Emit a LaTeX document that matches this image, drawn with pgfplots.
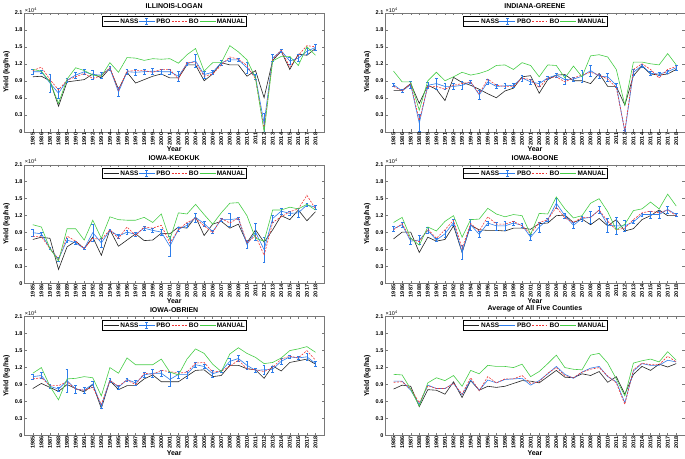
\documentclass[border=0pt]{standalone}
\usepackage{fontspec}
\setmainfont{Liberation Sans}
\usepackage{pgfplots}
\pgfplotsset{compat=1.18}
\usepackage{pgfplotstable}
\usepgfplotslibrary{groupplots}

\definecolor{cnass}{RGB}{35,35,35}
\definecolor{cpbo}{RGB}{45,125,235}
\definecolor{cbo}{RGB}{240,55,55}
\definecolor{cman}{RGB}{70,205,70}
\definecolor{caxis}{RGB}{120,120,120}

\pgfplotstableread{
year nass pbo err bo man
1985 0.97 1.06 0.05 1.08 1.10
1986 0.98 1.06 0.03 1.14 1.07
1987 0.90 0.86 0.16 0.92 0.88
1988 0.45 0.68 0.08 0.74 0.50
1989 0.88 0.91 0.03 0.91 0.93
1990 0.90 1.00 0.05 0.97 1.13
1991 0.92 1.06 0.05 1.03 1.08
1992 1.02 1.01 0.08 0.94 1.00
1993 0.95 1.00 0.05 0.99 0.98
1994 1.12 1.12 0.03 1.13 1.22
1995 0.75 0.70 0.08 0.73 1.05
1996 1.05 1.06 0.04 1.07 1.31
1997 0.86 1.05 0.05 1.08 1.30
1998 0.92 1.06 0.05 1.08 1.26
1999 0.98 1.07 0.05 1.05 1.29
2000 1.02 1.06 0.05 1.10 1.28
2001 0.95 1.06 0.05 1.10 1.29
2002 0.95 0.98 0.08 0.93 1.21
2003 1.18 1.20 0.02 1.22 1.36
2004 1.18 1.25 0.12 1.22 1.47
2005 0.90 1.01 0.06 0.98 1.07
2006 1.02 1.05 0.03 1.02 1.22
2007 1.22 1.22 0.04 1.18 1.22
2008 1.18 1.27 0.03 1.32 1.52
2009 1.18 1.27 0.03 1.28 1.41
2010 0.98 1.13 0.10 1.17 1.27
2011 1.08 0.97 0.05 0.93 0.95
2012 0.60 0.15 0.18 0.05 0.00
2013 1.26 1.30 0.06 1.28 1.25
2014 1.42 1.43 0.03 1.44 1.33
2015 1.10 1.25 0.06 1.14 1.33
2016 1.37 1.30 0.06 1.35 1.17
2017 1.35 1.42 0.05 1.52 1.50
2018 1.47 1.49 0.05 1.50 1.35
}\logan

\pgfplotstableread{
year nass pbo err bo man
1985 0.73 0.83 0.03 0.80 1.07
1986 0.73 0.72 0.03 0.72 0.88
1987 0.85 0.83 0.06 0.85 0.88
1988 0.50 0.15 0.15 0.20 0.38
1989 0.82 0.82 0.05 0.80 0.90
1990 0.75 0.85 0.10 0.80 1.05
1991 0.55 0.80 0.05 0.75 0.90
1992 0.96 0.80 0.05 0.82 0.97
1993 0.87 0.82 0.07 0.85 1.05
1994 0.82 0.88 0.03 0.88 1.00
1995 0.75 0.65 0.08 0.67 1.03
1996 0.67 0.88 0.04 0.93 1.08
1997 0.60 0.80 0.04 0.82 1.17
1998 0.72 0.81 0.04 0.80 1.18
1999 0.77 0.82 0.03 0.80 1.10
2000 0.97 0.95 0.05 0.95 1.22
2001 0.99 0.88 0.05 0.92 1.17
2002 0.68 0.85 0.05 0.78 0.97
2003 0.92 0.95 0.03 0.95 1.18
2004 1.00 1.00 0.03 0.97 1.17
2005 1.01 0.92 0.08 0.88 0.95
2006 0.90 0.93 0.04 0.95 1.16
2007 0.90 0.98 0.10 1.00 0.97
2008 0.85 1.08 0.10 1.05 1.34
2009 1.03 0.98 0.03 1.00 1.36
2010 0.80 0.97 0.07 0.93 1.32
2011 0.80 0.82 0.04 0.78 1.10
2012 0.47 0.00 0.02 0.02 0.47
2013 0.99 1.05 0.05 1.10 1.23
2014 1.16 1.17 0.03 1.20 1.23
2015 1.02 1.03 0.04 1.10 1.20
2016 1.00 1.02 0.03 0.95 1.18
2017 1.02 1.06 0.03 1.10 1.38
2018 1.10 1.13 0.05 1.15 1.18
}\greene

\pgfplotstableread{
year nass pbo err bo man
1985 0.78 0.90 0.06 0.83 1.04
1986 0.82 0.88 0.03 0.83 1.00
1987 0.80 0.62 0.02 0.62 0.62
1988 0.25 0.43 0.04 0.43 0.40
1989 0.65 0.77 0.04 0.84 0.97
1990 0.75 0.72 0.03 0.75 0.97
1991 0.62 0.62 0.02 0.62 0.77
1992 0.82 0.90 0.15 0.80 1.12
1993 0.50 0.72 0.08 0.78 0.80
1994 0.95 0.94 0.02 0.95 1.18
1995 0.66 0.84 0.03 0.80 1.13
1996 0.77 0.91 0.03 1.00 1.12
1997 0.88 0.87 0.03 0.85 1.12
1998 0.76 0.98 0.03 1.00 1.17
1999 0.77 0.94 0.04 0.98 1.08
2000 0.89 0.91 0.05 1.03 1.23
2001 0.88 0.66 0.17 0.72 0.78
2002 1.00 0.96 0.03 0.95 1.25
2003 0.98 1.03 0.03 1.08 1.23
2004 1.18 1.17 0.08 1.15 1.40
2005 0.85 1.06 0.04 1.02 1.22
2006 1.05 0.92 0.03 0.90 1.05
2007 1.10 1.13 0.03 1.15 1.25
2008 0.98 1.13 0.12 1.07 1.42
2009 1.05 1.15 0.02 1.16 1.43
2010 0.72 0.69 0.07 0.72 1.20
2011 0.95 0.91 0.15 0.85 0.80
2012 0.73 0.60 0.22 0.50 0.75
2013 0.95 1.15 0.06 1.08 1.30
2014 1.20 1.28 0.05 1.18 1.30
2015 1.13 1.24 0.03 1.27 1.35
2016 1.30 1.25 0.08 1.32 1.32
2017 1.11 1.39 0.03 1.56 1.40
2018 1.27 1.35 0.04 1.32 1.30
}\keokuk

\pgfplotstableread{
year nass pbo err bo man
1985 0.79 0.97 0.05 0.95 1.08
1986 0.91 1.04 0.04 1.06 1.17
1987 0.91 0.75 0.05 0.78 0.80
1988 0.55 0.77 0.08 0.74 0.68
1989 0.82 0.94 0.05 0.96 1.00
1990 0.75 0.77 0.03 0.80 0.93
1991 0.78 0.88 0.06 0.95 1.10
1992 1.02 1.08 0.05 1.12 1.20
1993 0.55 0.55 0.12 0.62 0.82
1994 1.03 1.04 0.10 1.06 1.13
1995 0.95 0.87 0.05 0.93 1.14
1996 0.94 1.07 0.04 1.18 1.33
1997 0.94 1.02 0.07 1.05 1.23
1998 0.93 1.02 0.08 1.05 1.18
1999 0.98 1.07 0.04 1.10 1.22
2000 0.98 1.03 0.04 1.02 1.20
2001 0.96 0.82 0.06 0.88 0.87
2002 1.06 1.00 0.09 1.08 1.24
2003 1.07 1.13 0.02 1.13 1.23
2004 1.20 1.42 0.09 1.35 1.53
2005 1.21 1.20 0.05 1.16 1.32
2006 1.08 1.03 0.05 1.08 1.16
2007 1.14 1.15 0.04 1.17 1.20
2008 1.04 1.17 0.10 1.17 1.42
2009 1.15 1.30 0.06 1.30 1.50
2010 1.02 1.03 0.13 1.10 1.27
2011 1.13 1.02 0.15 0.95 0.95
2012 0.93 1.02 0.10 0.98 1.05
2013 0.97 1.09 0.03 1.13 1.29
2014 1.13 1.22 0.03 1.25 1.32
2015 1.20 1.22 0.06 1.28 1.44
2016 1.30 1.22 0.06 1.25 1.32
2017 1.20 1.31 0.06 1.30 1.58
2018 1.20 1.22 0.03 1.20 1.37
}\boone

\pgfplotstableread{
year nass pbo err bo man
1985 0.83 1.04 0.05 1.00 1.10
1986 0.92 1.06 0.05 1.02 1.20
1987 0.85 0.87 0.04 0.88 0.87
1988 0.78 0.82 0.04 0.88 0.63
1989 0.90 0.97 0.20 0.95 1.00
1990 0.83 0.82 0.07 0.82 1.01
1991 0.77 0.80 0.05 0.80 1.04
1992 0.90 0.91 0.05 0.85 1.02
1993 0.48 0.52 0.04 0.55 0.70
1994 0.97 0.98 0.04 0.97 1.20
1995 0.81 0.85 0.03 0.87 1.10
1996 0.88 0.99 0.03 0.98 1.37
1997 0.88 0.93 0.05 0.90 1.25
1998 1.00 1.07 0.04 1.10 1.25
1999 1.07 1.10 0.07 1.08 1.25
2000 0.95 1.10 0.06 1.15 1.35
2001 0.95 0.99 0.12 1.13 1.12
2002 0.95 1.08 0.06 1.10 1.07
2003 1.05 1.08 0.06 1.12 1.35
2004 1.15 1.25 0.05 1.28 1.53
2005 1.16 1.22 0.04 1.29 1.45
2006 1.04 1.09 0.06 1.12 1.26
2007 1.06 1.14 0.02 1.14 1.13
2008 1.24 1.31 0.06 1.22 1.44
2009 1.24 1.36 0.05 1.33 1.55
2010 1.18 1.24 0.07 1.18 1.45
2011 1.16 1.15 0.04 1.16 1.38
2012 1.01 1.16 0.08 1.13 1.27
2013 1.23 1.17 0.05 1.20 1.29
2014 1.14 1.31 0.05 1.35 1.37
2015 1.29 1.39 0.02 1.40 1.50
2016 1.32 1.37 0.03 1.37 1.53
2017 1.35 1.39 0.06 1.50 1.57
2018 1.26 1.27 0.05 1.33 1.47
}\obrien

\pgfplotstableread{
year nass pbo err bo man
1985 0.82 0.96 0 0.94 1.08
1986 0.89 0.96 0 0.95 1.07
1987 0.87 0.80 0 0.82 0.82
1988 0.51 0.55 0 0.58 0.52
1989 0.81 0.89 0 0.88 0.93
1990 0.80 0.83 0 0.83 1.02
1991 0.73 0.83 0 0.83 0.97
1992 0.95 0.92 0 0.92 1.06
1993 0.67 0.72 0 0.73 0.87
1994 0.97 0.98 0 1.02 1.15
1995 0.80 0.80 0 0.79 1.09
1996 0.87 0.98 0 1.04 1.24
1997 0.85 0.93 0 0.93 1.22
1998 0.87 0.99 0 1.00 1.22
1999 0.92 1.00 0 1.00 1.20
2000 0.97 1.01 0 1.06 1.26
2001 0.96 0.89 0 0.92 1.04
2002 0.93 0.97 0 0.95 1.13
2003 1.04 1.09 0 1.10 1.27
2004 1.15 1.22 0 1.20 1.42
2005 1.03 1.08 0 1.06 1.20
2006 1.02 1.01 0 1.02 1.17
2007 1.09 1.12 0 1.12 1.16
2008 1.06 1.19 0 1.17 1.42
2009 1.13 1.22 0 1.20 1.45
2010 0.94 1.04 0 1.05 1.28
2011 1.04 0.95 0 0.93 1.00
2012 0.73 0.58 0 0.55 0.70
2013 1.08 1.14 0 1.16 1.28
2014 1.22 1.27 0 1.28 1.32
2015 1.15 1.24 0 1.25 1.35
2016 1.26 1.24 0 1.25 1.30
2017 1.21 1.33 0 1.40 1.48
2018 1.27 1.30 0 1.30 1.33
}\average

\newcommand{\tickfont}{\fontsize{5.5}{6}\selectfont\bfseries}
\newcommand{\legfont}{\fontsize{6.5}{7}\selectfont\bfseries}
\newcommand{\labfont}{\fontsize{7}{8}\selectfont\bfseries}

% legend key samples, drawn first in each axis
\newcommand{\legendsamples}[1]{%
  \addplot[cnass, line width=1pt, no markers] coordinates {(1993.28,1.9446) (1995.03,1.9446)};
  \addplot[cpbo, line width=1pt, no markers] coordinates {(1997.36,1.9446) (1999.22,1.9446)};
  \ifnum#1=1
  \addplot[cpbo, line width=0.5pt, no markers, error bars/.cd, y dir=both, y explicit,
     error bar style={cpbo, line width=0.5pt},
     error mark options={rotate=90, mark size=1.5pt, cpbo, line width=0.5pt}]
     coordinates {(1998.29,1.9446) +- (0,0.053)};
  \fi
  \addplot[cbo, line width=1pt, dash pattern=on 2pt off 1.3pt, no markers] coordinates {(2001.21,1.9446) (2002.96,1.9446)};
  \addplot[cman, line width=1pt, no markers] coordinates {(2004.48,1.9446) (2006.34,1.9446)};
}
% legend frame, drawn last (outline only)
\newcommand{\legendbox}{%
  \addplot[draw=black, line width=0.4pt, no markers] coordinates
    {(1993.10,2.0328) (2009.96,2.0328) (2009.96,1.8563) (1993.10,1.8563) (1993.10,2.0328)};
}

\newcommand{\legendtext}{%
  \coordinate (L) at (rel axis cs:0.5,0.968);
  \node[anchor=west, font=\legfont, inner sep=0pt] at ([xshift=-54pt,yshift=-5pt]L) {NASS};
  \node[anchor=west, font=\legfont, inner sep=0pt] at ([xshift=-18pt,yshift=-5pt]L) {PBO};
  \node[anchor=west, font=\legfont, inner sep=0pt] at ([xshift=14.5pt,yshift=-5pt]L) {BO};
  \node[anchor=west, font=\legfont, inner sep=0pt] at ([xshift=42.5pt,yshift=-5pt]L) {MANUAL};
}

\pgfplotsset{
  yieldax/.style={
    scale only axis, width=300pt, height=119pt,
    xmin=1984, xmax=2019, ymin=0, ymax=2.1,
    xtick={1985,...,2018},
    ytick={0,0.3,0.6,0.9,1.2,1.5,1.8,2.1},
    yticklabels={0,0.3,0.6,0.9,1.2,1.5,1.8,2.1},
    /pgf/number format/1000 sep={},
    /pgf/number format/assume math mode=true,
    xticklabel style={rotate=90, anchor=east, font=\tickfont, inner sep=1pt},
    yticklabel style={font=\tickfont, inner sep=1.5pt},
    tick align=inside, major tick length=2.5pt,
    axis line style={caxis, line width=0.4pt},
    every tick/.style={caxis, line width=0.4pt},
    xlabel={Year}, ylabel={Yield (kg/ha)},
    label style={font=\labfont},
    xlabel style={yshift=3pt},
    ylabel style={yshift=0pt},
    title style={font=\labfont, yshift=-5pt},
    after end axis/.code={%
      \node[anchor=south west, font=\fontsize{5.5}{6}\selectfont, inner sep=0.5pt] at (rel axis cs:0,1) {×10\textsuperscript{4}};
      \legendtext},
  },
}

\newcommand{\panelerr}[1]{%
  \legendsamples{1}
  \addplot[cnass, line width=0.6pt, no markers] table[x=year,y=nass]{#1};
  \addplot[cpbo, line width=0.6pt, no markers, error bars/.cd, y dir=both, y explicit,
     error bar style={cpbo, line width=0.5pt},
     error mark options={rotate=90, mark size=1.4pt, cpbo, line width=0.5pt}]
     table[x=year,y=pbo,y error=err]{#1};
  \addplot[cbo, line width=0.6pt, dash pattern=on 2pt off 1.3pt, no markers] table[x=year,y=bo]{#1};
  \addplot[cman, line width=0.6pt, no markers] table[x=year,y=man]{#1};
  \legendbox
}
\newcommand{\panelnoerr}[1]{%
  \legendsamples{0}
  \addplot[cnass, line width=0.6pt, no markers] table[x=year,y=nass]{#1};
  \addplot[cpbo, line width=0.6pt, no markers] table[x=year,y=pbo]{#1};
  \addplot[cbo, line width=0.6pt, dash pattern=on 2pt off 1.3pt, no markers] table[x=year,y=bo]{#1};
  \addplot[cman, line width=0.6pt, no markers] table[x=year,y=man]{#1};
  \legendbox
}

\begin{document}
\begin{tikzpicture}
\begin{groupplot}[group style={group size=2 by 3, horizontal sep=61pt, vertical sep=33pt}, yieldax]
\nextgroupplot[title={ILLINOIS-LOGAN}]
\panelerr{\logan}
\nextgroupplot[title={INDIANA-GREENE}]
\panelerr{\greene}
\nextgroupplot[title={IOWA-KEOKUK}]
\panelerr{\keokuk}
\nextgroupplot[title={IOWA-BOONE}]
\panelerr{\boone}
\nextgroupplot[title={IOWA-OBRIEN}]
\panelerr{\obrien}
\nextgroupplot[title={Average of All Five Counties}]
\panelnoerr{\average}
\end{groupplot}
\end{tikzpicture}
\end{document}
